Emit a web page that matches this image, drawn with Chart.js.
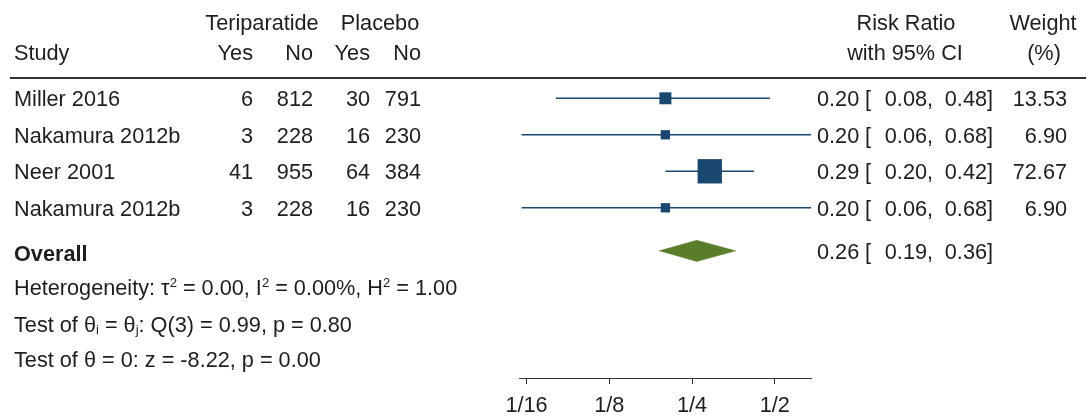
<!DOCTYPE html>
<html>
<head>
<meta charset="utf-8">
<script src="https://cdn.jsdelivr.net/npm/chart.js@4.4.1/dist/chart.umd.min.js"></script>
<style>
  html, body { margin: 0; padding: 0; background: #ffffff; }
  #wrap { width: 1089px; height: 419px; position: relative; }
</style>
</head>
<body>
<div id="wrap"><canvas id="forest" width="1089" height="419"></canvas></div>
<script>
// ---- study data ----
const studies   = ['Miller 2016', 'Nakamura 2012b', 'Neer 2001', 'Nakamura 2012b'];
const teriYes   = [6, 3, 41, 3];
const teriNo    = [812, 228, 955, 228];
const placYes   = [30, 16, 64, 16];
const placNo    = [791, 230, 384, 230];
const riskRatio = [0.20, 0.20, 0.29, 0.20];
const ciLow     = [0.08, 0.06, 0.20, 0.06];
const ciHigh    = [0.48, 0.68, 0.42, 0.68];
const weightPct = [13.53, 6.90, 72.67, 6.90];

// pooled estimate
const overallRR   = 0.26;
const overallLow  = 0.19;
const overallHigh = 0.36;

// x-axis ticks
const tickValues = [1 / 16, 1 / 8, 1 / 4, 1 / 2];
const tickLabels = ['1/16', '1/8', '1/4', '1/2'];

// ---- layout / style ----
const FONT = '"Liberation Sans", Arial, Helvetica, sans-serif';
const FS = 21.7;
const TEXT = '#1e1e1e';
const NAVY = '#1a476f';
const GREEN = '#5a7d2c';
const ROW_OVERALL = 4.18;   // pooled row sits a little lower than the study rows
const DIAMOND_HALF = 0.29;  // half height of the diamond, in row units

const fmt = v => v.toFixed(2);

// square side grows with study weight
const squareSide = w => 2.6 + 2.55 * Math.sqrt(w);

const ciDatasets = riskRatio.map((_, i) => ({
  type: 'line',
  data: [{ x: ciLow[i], y: i }, { x: ciHigh[i], y: i }],
  borderColor: NAVY,
  borderWidth: 1.4,
  pointRadius: 0,
  fill: false,
  order: 2
}));

const squares = {
  type: 'scatter',
  data: riskRatio.map((v, i) => ({ x: v, y: i })),
  pointStyle: 'rect',
  pointRadius: riskRatio.map((_, i) => squareSide(weightPct[i]) / Math.SQRT2),
  pointHoverRadius: riskRatio.map((_, i) => squareSide(weightPct[i]) / Math.SQRT2),
  backgroundColor: NAVY,
  borderColor: NAVY,
  borderWidth: 0,
  order: 0
};

const diamond = {
  type: 'line',
  data: [
    { x: overallLow,  y: ROW_OVERALL },
    { x: overallRR,   y: ROW_OVERALL - DIAMOND_HALF },
    { x: overallHigh, y: ROW_OVERALL },
    { x: overallRR,   y: ROW_OVERALL + DIAMOND_HALF },
    { x: overallLow,  y: ROW_OVERALL }
  ],
  borderColor: GREEN,
  borderWidth: 0.5,
  backgroundColor: GREEN,
  pointRadius: 0,
  fill: 'shape',
  tension: 0,
  order: 1
};

// draw a run of text pieces, some of them raised or lowered
function drawRich(ctx, segs, x, cy, align) {
  const measure = s => {
    ctx.font = (s.bold ? 'bold ' : '') + (s.small ? 13 : FS) + 'px ' + FONT;
    return ctx.measureText(s.t).width;
  };
  let total = 0;
  segs.forEach(s => { total += measure(s); });
  let cx = align === 'right' ? x - total : align === 'center' ? x - total / 2 : x;
  const base = cy + 0.36 * FS;
  ctx.textAlign = 'left';
  ctx.textBaseline = 'alphabetic';
  segs.forEach(s => {
    const w = measure(s);
    let by = base;
    if (s.sup) by = base - 8;
    if (s.sub) by = base + 2;
    ctx.fillText(s.t, cx, by);
    cx += w;
  });
}
const txt = (ctx, t, x, cy, align, bold) => drawRich(ctx, [{ t, bold }], x, cy, align);

// "0.20 [  0.08,  0.48]" laid out in fixed sub-columns
function ciText(ctx, est, lo, hi, cy) {
  txt(ctx, fmt(est), 817, cy, 'left');
  txt(ctx, '[', 865, cy, 'left');
  txt(ctx, fmt(lo), 927, cy, 'right');
  txt(ctx, ',', 927, cy, 'left');
  txt(ctx, fmt(hi), 987, cy, 'right');
  txt(ctx, ']', 987, cy, 'left');
}

const tablePlugin = {
  id: 'forestTable',
  afterDraw(chart) {
    const ctx = chart.ctx;
    const yS = chart.scales.y;
    const Y = v => yS.getPixelForValue(v);
    ctx.save();
    ctx.fillStyle = TEXT;

    // column headers
    const h1 = Y(-2.08), h2 = Y(-1.255);
    txt(ctx, 'Teriparatide', 262, h1, 'center');
    txt(ctx, 'Placebo', 380, h1, 'center');
    txt(ctx, 'Study', 14, h2, 'left');
    txt(ctx, 'Yes', 253, h2, 'right');
    txt(ctx, 'No', 313, h2, 'right');
    txt(ctx, 'Yes', 370, h2, 'right');
    txt(ctx, 'No', 421, h2, 'right');
    txt(ctx, 'Risk Ratio', 906, h1, 'center');
    txt(ctx, 'with 95% CI', 905, h2, 'center');
    txt(ctx, 'Weight', 1043, h1, 'center');
    txt(ctx, '(%)', 1044, h2, 'center');

    // rule under the headers
    ctx.strokeStyle = '#333333';
    ctx.lineWidth = 2;
    ctx.beginPath();
    ctx.moveTo(10, Math.round(Y(-0.56)));
    ctx.lineTo(1086, Math.round(Y(-0.56)));
    ctx.stroke();

    // study rows
    studies.forEach((s, i) => {
      const cy = Y(i);
      txt(ctx, s, 14, cy, 'left');
      txt(ctx, String(teriYes[i]), 253, cy, 'right');
      txt(ctx, String(teriNo[i]), 313, cy, 'right');
      txt(ctx, String(placYes[i]), 370, cy, 'right');
      txt(ctx, String(placNo[i]), 421, cy, 'right');
      ciText(ctx, riskRatio[i], ciLow[i], ciHigh[i], cy);
      txt(ctx, fmt(weightPct[i]), 1067, cy, 'right');
    });

    // pooled row and statistics
    txt(ctx, 'Overall', 14, Y(ROW_OVERALL + 0.05), 'left', true);
    ciText(ctx, overallRR, overallLow, overallHigh, Y(ROW_OVERALL));

    drawRich(ctx, [
      { t: 'Heterogeneity: \u03C4' }, { t: '2', small: true, sup: true },
      { t: ' = 0.00, I' }, { t: '2', small: true, sup: true },
      { t: ' = 0.00%, H' }, { t: '2', small: true, sup: true },
      { t: ' = 1.00' }
    ], 14, Y(5.18), 'left');
    drawRich(ctx, [
      { t: 'Test of \u03B8' }, { t: 'i', small: true, sub: true },
      { t: ' = \u03B8' }, { t: 'j', small: true, sub: true },
      { t: ': Q(3) = 0.99, p = 0.80' }
    ], 14, Y(6.18), 'left');
    txt(ctx, 'Test of \u03B8 = 0: z = -8.22, p = 0.00', 14, Y(7.16), 'left');

    ctx.restore();
  }
};

new Chart(document.getElementById('forest'), {
  data: { datasets: [...ciDatasets, diamond, squares] },
  options: {
    responsive: false,
    animation: false,
    devicePixelRatio: 1,
    layout: { autoPadding: false, padding: { left: 519, right: 278, top: 0, bottom: 0 } },
    plugins: { legend: { display: false }, tooltip: { enabled: false } },
    scales: {
      x: {
        type: 'logarithmic',
        position: 'bottom',
        min: 0.0587,
        max: 0.677,
        afterBuildTicks: scale => { scale.ticks = tickValues.map(v => ({ value: v })); },
        afterFit: scale => { scale.height = 41; },
        ticks: {
          autoSkip: false,
          maxRotation: 0,
          padding: 9,
          color: TEXT,
          font: { family: FONT, size: FS },
          callback: (v, i) => tickLabels[i]
        },
        grid: { drawOnChartArea: false, drawTicks: true, tickLength: 6, color: '#333333', lineWidth: 1 },
        border: { display: true, color: '#333333', width: 1 }
      },
      y: {
        type: 'linear',
        display: false,
        reverse: true,
        min: -2.693,
        max: 7.663,
        ticks: { display: false }
      }
    }
  },
  plugins: [tablePlugin]
});
</script>
</body>
</html>
